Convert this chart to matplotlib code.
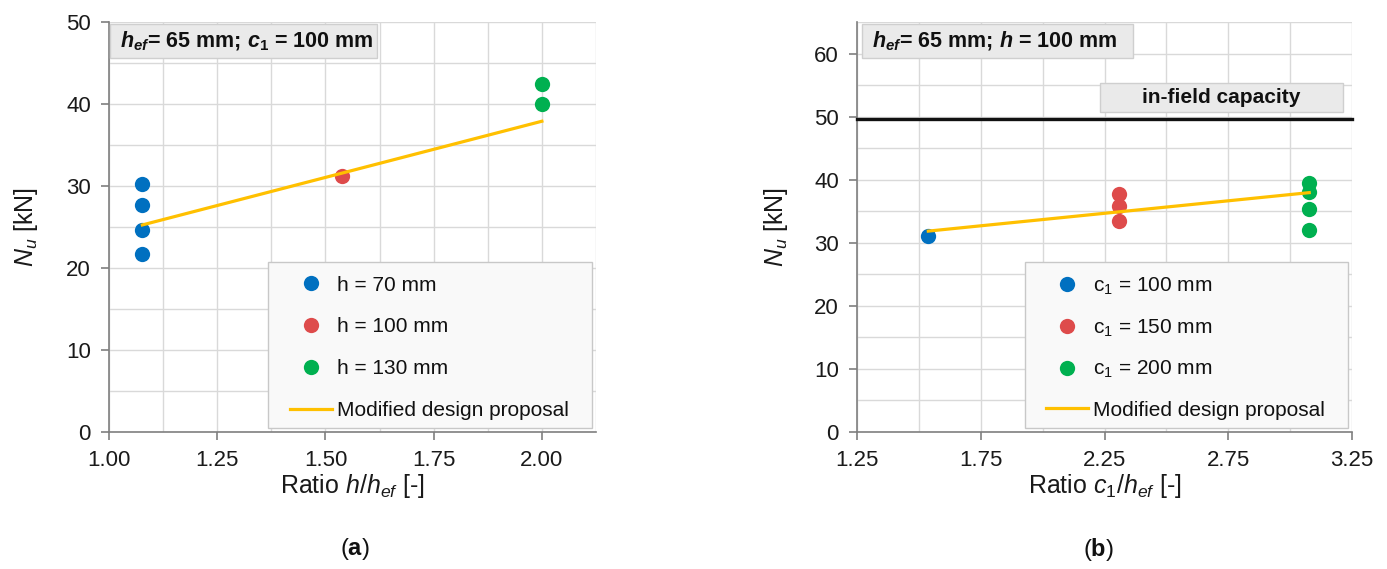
import matplotlib
matplotlib.use("Agg")
import matplotlib.pyplot as plt
from matplotlib.patches import Rectangle, Shadow
from matplotlib.ticker import MultipleLocator

plt.rcParams['font.family'] = ['Liberation Sans', 'DejaVu Sans']
plt.rcParams['mathtext.fontset'] = 'custom'
plt.rcParams['mathtext.rm'] = 'Liberation Sans'
plt.rcParams['mathtext.it'] = 'Liberation Sans:italic'
plt.rcParams['mathtext.bf'] = 'Liberation Sans:bold'
plt.rcParams['mathtext.bfit'] = 'Liberation Sans:bold:italic'

# ---------------- data ----------------
# panel (a): ratio h/hef
a_x_h70 = 1.077
a_y_h70 = [30.2, 27.7, 24.6, 21.7]
a_x_h100 = 1.538
a_y_h100 = [31.2]
a_x_h130 = 2.000
a_y_h130 = [42.5, 40.0]
a_line_x = [1.077, 2.000]
a_line_y = [25.25, 37.9]
a_labels = ["h = 70 mm", "h = 100 mm", "h = 130 mm", "Modified design proposal"]
a_xticks = [1.00, 1.25, 1.50, 1.75, 2.00]
a_yticks = [0, 10, 20, 30, 40, 50]

# panel (b): ratio c1/hef
b_x_c100 = 1.538
b_y_c100 = [31.1]
b_x_c150 = 2.308
b_y_c150 = [37.7, 35.8, 33.5]
b_x_c200 = 3.077
b_y_c200 = [39.4, 38.1, 35.3, 32.0]
b_line_x = [1.538, 3.077]
b_line_y = [31.85, 37.95]
b_capacity = 49.7
b_labels = [r"c$_\mathrm{1}$ = 100 mm", r"c$_\mathrm{1}$ = 150 mm",
            r"c$_\mathrm{1}$ = 200 mm", "Modified design proposal"]
b_xticks = [1.25, 1.75, 2.25, 2.75, 3.25]
b_yticks = [0, 10, 20, 30, 40, 50, 60]

BLUE = '#0070C0'
RED = '#DE4B4B'
GREEN = '#00B050'
ORANGE = '#FFC000'
GRID = '#d9d9d9'
SPINE = '#7f7f7f'

fig = plt.figure(figsize=(13.87, 5.69), dpi=100)
axa = fig.add_axes([0.0786, 0.2408, 0.3511, 0.7205])
axb = fig.add_axes([0.6179, 0.2408, 0.3569, 0.7205])


def style(ax, xmaj, xmin, ymaj, ymin):
    ax.xaxis.set_major_locator(MultipleLocator(xmaj))
    ax.xaxis.set_minor_locator(MultipleLocator(xmin))
    ax.yaxis.set_major_locator(MultipleLocator(ymaj))
    ax.yaxis.set_minor_locator(MultipleLocator(ymin))
    ax.grid(True, which='both', color=GRID, linewidth=1.0, zorder=0)
    ax.set_axisbelow(True)
    for s in ['top', 'right']:
        ax.spines[s].set_visible(False)
    for s in ['left', 'bottom']:
        ax.spines[s].set_color(SPINE)
        ax.spines[s].set_linewidth(1.2)
    ax.tick_params(which='major', direction='out', length=6, width=1.2,
                   color=SPINE, labelsize=16, labelcolor='#1a1a1a', pad=7)
    ax.tick_params(which='minor', length=0)


def header_box(ax, x0, y0, w, h, text, tx, ha='left', fs=15.5):
    r = Rectangle((x0, y0), w, h, transform=ax.transAxes, facecolor='#eaeaea',
                  edgecolor='#cfcfcf', linewidth=1.0, zorder=4, clip_on=False)
    sh = Shadow(r, 2.5, -2.5, facecolor='#b0b0b0', edgecolor='none', alpha=0.5, zorder=3.9)
    ax.add_patch(sh)
    ax.add_patch(r)
    ax.text(tx, y0 + h / 2, text, transform=ax.transAxes, fontsize=fs,
            fontweight='bold', va='center', ha=ha, zorder=5, color='#111111')


def legend(ax, handles, labels, box, anchor, spacing):
    x0, y0, x1, y1 = box
    r = Rectangle((x0, y0), x1 - x0, y1 - y0, transform=ax.transAxes,
                  facecolor='#f9f9f9', edgecolor='#c8c8c8', linewidth=1.0,
                  zorder=5.5, clip_on=False)
    sh = Shadow(r, 2.5, -2.5, facecolor='#a0a0a0', edgecolor='none', alpha=0.45, zorder=5.4)
    ax.add_patch(sh)
    ax.add_patch(r)
    lg = ax.legend(handles, labels, loc='upper left', bbox_to_anchor=anchor,
                   borderaxespad=0, borderpad=0, fontsize=15, frameon=False,
                   labelspacing=spacing, handlelength=2.0, handletextpad=0.25)
    lg.set_zorder(6)
    for t in lg.get_texts():
        t.set_color('#111111')
    return lg


ms = 11

# ---------------- panel (a) ----------------
ax = axa
style(ax, 0.25, 0.125, 10, 5)
ax.set_xlim(1.0, 2.125)
ax.set_ylim(0, 50)
ax.set_xticks(a_xticks)
ax.set_xticklabels([f"{v:.2f}" for v in a_xticks])
ax.set_yticks(a_yticks)
h1, = ax.plot([a_x_h70] * len(a_y_h70), a_y_h70, 'o', color=BLUE, ms=ms, mec='none', zorder=3)
h2, = ax.plot([a_x_h100] * len(a_y_h100), a_y_h100, 'o', color=RED, ms=ms, mec='none', zorder=3)
h3, = ax.plot([a_x_h130] * len(a_y_h130), a_y_h130, 'o', color=GREEN, ms=ms, mec='none', zorder=3)
h4, = ax.plot(a_line_x, a_line_y, '-', color=ORANGE, lw=2.3, zorder=3.5)
legend(ax, [h1, h2, h3, h4], a_labels, (0.3265, 0.0098, 0.992, 0.4146), (0.3717, 0.3817), 1.1)
ax.set_xlabel(r"Ratio $h/h_{ef}$ [-]", fontsize=18, color='#1a1a1a')
ax.xaxis.set_label_coords(0.5, -0.132)
ax.xaxis.label.set_va('center')
ax.set_ylabel(r"$N_u$ [kN]", fontsize=18, color='#1a1a1a')
ax.yaxis.set_label_coords(-0.170, 0.5)
ax.yaxis.label.set_va('center')
header_box(ax, 0.002, 0.912, 0.548, 0.083,
           r"$\mathbfit{h}_{\mathbfit{ef}}$= 65 mm; $\mathbfit{c}_{\mathbf{1}}$ = 100 mm", 0.0226)

# ---------------- panel (b) ----------------
ax = axb
style(ax, 0.5, 0.25, 10, 5)
ax.set_xlim(1.25, 3.25)
ax.set_ylim(0, 65)
ax.set_xticks(b_xticks)
ax.set_xticklabels([f"{v:.2f}" for v in b_xticks])
ax.set_yticks(b_yticks)
g1, = ax.plot([b_x_c100] * len(b_y_c100), b_y_c100, 'o', color=BLUE, ms=ms, mec='none', zorder=3)
g2, = ax.plot([b_x_c150] * len(b_y_c150), b_y_c150, 'o', color=RED, ms=ms, mec='none', zorder=3)
g3, = ax.plot([b_x_c200] * len(b_y_c200), b_y_c200, 'o', color=GREEN, ms=ms, mec='none', zorder=3)
g4, = ax.plot(b_line_x, b_line_y, '-', color=ORANGE, lw=2.3, zorder=3.5)
ax.axhline(b_capacity, color='#111111', lw=2.4, zorder=3.6, clip_on=False)
legend(ax, [g1, g2, g3, g4], b_labels, (0.339, 0.0098, 0.992, 0.4146), (0.382, 0.3817), 0.98)
ax.set_xlabel(r"Ratio $c_\mathrm{1}/h_{ef}$ [-]", fontsize=18, color='#1a1a1a')
ax.xaxis.set_label_coords(0.5, -0.132)
ax.xaxis.label.set_va('center')
ax.set_ylabel(r"$N_u$ [kN]", fontsize=18, color='#1a1a1a')
ax.yaxis.set_label_coords(-0.164, 0.5)
ax.yaxis.label.set_va('center')
header_box(ax, 0.010, 0.912, 0.548, 0.083,
           r"$\mathbfit{h}_{\mathbfit{ef}}$= 65 mm; $\mathbfit{h}$ = 100 mm", 0.030)
header_box(ax, 0.491, 0.780, 0.491, 0.071, "in-field capacity", 0.7365, ha='center', fs=15)

# subfigure labels
fig.text(0.256, 0.035, r"($\mathbf{a}$)", fontsize=17, ha='center', va='center', color='#111111')
fig.text(0.792, 0.035, r"($\mathbf{b}$)", fontsize=17, ha='center', va='center', color='#111111')

fig.savefig("out.png", dpi=100)
